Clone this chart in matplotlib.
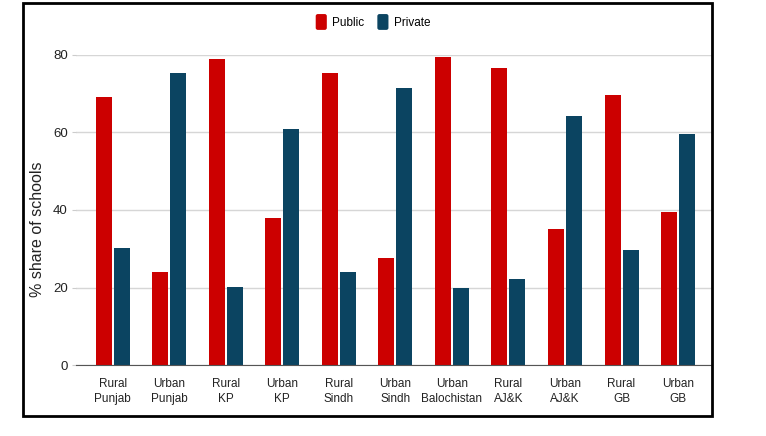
import matplotlib
matplotlib.use("Agg")
import matplotlib.pyplot as plt
from matplotlib.patches import Rectangle, FancyBboxPatch, Patch
from matplotlib.legend_handler import HandlerPatch
import numpy as np

categories = ["Rural\nPunjab", "Urban\nPunjab", "Rural\nKP", "Urban\nKP", "Rural\nSindh",
              "Urban\nSindh", "Urban\nBalochistan", "Rural\nAJ&K", "Urban\nAJ&K",
              "Rural\nGB", "Urban\nGB"]
public = [69.2, 24.1, 78.9, 37.9, 75.3, 27.6, 79.6, 76.7, 35.1, 69.6, 39.4]
private = [30.2, 75.3, 20.2, 61.0, 24.1, 71.6, 19.8, 22.2, 64.2, 29.8, 59.6]
yticks = [0, 20, 40, 60, 80]

red = "#cc0000"
blue = "#0b4461"

plt.rcParams['font.family'] = ['Liberation Sans', 'DejaVu Sans']

fig = plt.figure(figsize=(7.66, 4.36), dpi=100)
ax = fig.add_axes([0.0992, 0.1628, 0.8303, 0.7111])

x = np.arange(len(categories))
w = 0.283
ax.bar(x - 0.159, public, w, color=red, zorder=3)
ax.bar(x + 0.159, private, w, color=blue, zorder=3)

ax.set_xlim(-0.65, 10.6)
ax.set_ylim(0, 80)
ax.set_yticks(yticks)
ax.set_xticks(x)
ax.set_xticklabels(categories, fontsize=8.5, color="#222222", linespacing=1.4)
ax.tick_params(axis='y', labelsize=9.5, colors="#222222", length=3, color="#cccccc", pad=3)
ax.tick_params(axis='x', length=0, pad=9)
ax.grid(axis='y', color="#d6d6d6", linewidth=1, zorder=0)
for s in ['top', 'right', 'left']:
    ax.spines[s].set_visible(False)
ax.spines['bottom'].set_color("#555555")
ax.spines['bottom'].set_zorder(4)

ax.set_ylabel("% share of schools", fontsize=11.5, color="#222222")
ax.yaxis.set_label_coords(-0.048, 0.439)


class RoundHandler(HandlerPatch):
    def create_artists(self, legend, orig_handle, xdescent, ydescent, width, height, fontsize, trans):
        p = FancyBboxPatch((-xdescent, -ydescent + height / 2 - 5.7), 8, 11.4,
                           boxstyle="round,pad=0,rounding_size=1.5",
                           facecolor=orig_handle.get_facecolor(), edgecolor='none', transform=trans)
        return [p]


handles = [Patch(facecolor=red), Patch(facecolor=blue)]
labels = ["Public", "Private"]
fig.legend(handles, labels, loc='center', bbox_to_anchor=(0.487, 0.947), ncol=2, frameon=False,
           fontsize=8.5, handlelength=0.95, handletextpad=0.45, columnspacing=1.1,
           handler_map={Patch: RoundHandler()})

frame = Rectangle((0.030, 0.0459), 0.8995, 0.947, transform=fig.transFigure, fill=False,
                  edgecolor='black', linewidth=2, zorder=10)
fig.patches.append(frame)

fig.savefig("out.png", dpi=100)
